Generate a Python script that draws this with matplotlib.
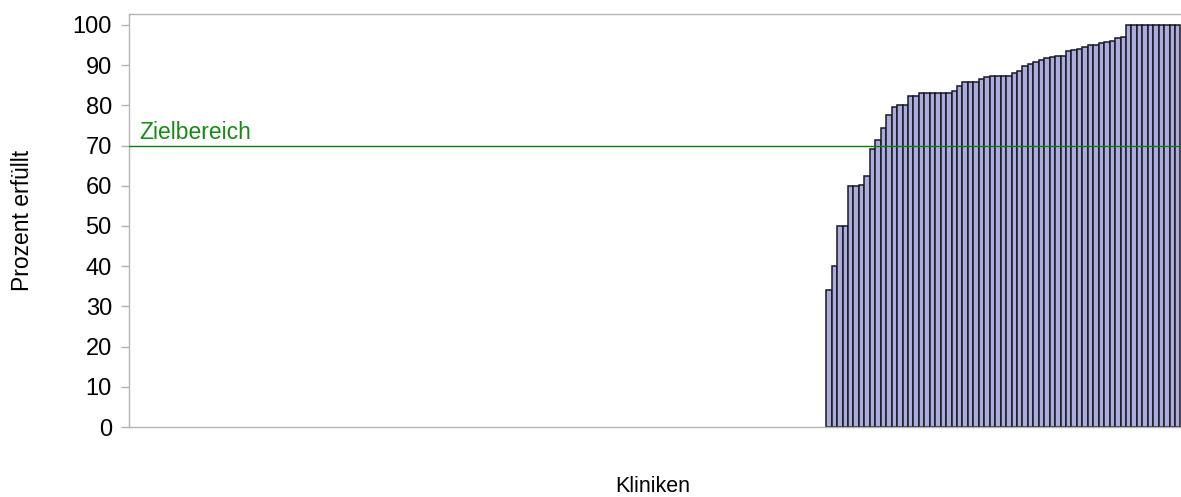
# -*- coding: utf-8 -*-
"""
Qualitaetsindikator: Prozent erfuellt je Klinik, sortiert
"""
import numpy as np
import matplotlib
matplotlib.use('Agg')
import matplotlib.pyplot as plt

# Anzahl Kliniken auf der x-Achse (die ersten ohne Wert)
N_KLINIKEN = 193

# Prozent erfuellt, aufsteigend sortiert
werte = [34.1, 40.1, 50.0, 50.0, 59.9, 59.9, 60.3, 62.5, 69.2, 71.3,
         74.3, 77.7, 79.6, 80.0, 80.0, 82.4, 82.4, 83.2, 83.2, 83.2,
         83.2, 83.2, 83.2, 83.5, 84.7, 85.7, 85.7, 85.7, 86.6, 87.0,
         87.2, 87.2, 87.2, 87.2, 88.0, 88.6, 89.8, 90.4, 90.8, 91.4,
         91.7, 92.0, 92.4, 92.4, 93.5, 93.7, 94.0, 94.4, 94.9, 94.9,
         95.4, 95.8, 96.1, 96.7, 97.1, 100.0, 100.0, 100.0, 100.0, 100.0,
         100.0, 100.0, 100.0, 100.0, 100.0]

ZIELBEREICH = 70
yticks = list(range(0, 101, 10))


def balken(werte, n_kliniken, ziel, dst):
    """
    Balkengrafik mit Linie fuer den Zielbereich
    """
    plt.rcParams['font.family'] = ['Liberation Sans', 'DejaVu Sans']
    grau = '#b4b4b4'

    fig = plt.figure(figsize=(11.81, 4.97), dpi=100)
    ax = fig.add_axes([128.5 / 1181, 1 - 427 / 497,
                       1052 / 1181, (427 - 13.7) / 497])

    x = np.arange(n_kliniken - len(werte), n_kliniken)
    ax.bar(x, werte, width=1.0, color='#acacda', edgecolor='#181824',
           linewidth=1.1, zorder=2)

    ax.axhline(ziel, color='#0f7a0f', linewidth=1.0, zorder=3)
    ax.annotate('Zielbereich', xy=(0.01, ziel),
                xycoords=('axes fraction', 'data'),
                xytext=(0, 5), textcoords='offset points',
                color='#178a17', fontsize=16.5, va='baseline', ha='left')

    ax.set_xlim(-0.5, n_kliniken - 0.5)
    ax.set_ylim(0, 102.8)
    ax.set_yticks(yticks)
    ax.set_xticks([])
    ax.tick_params(axis='y', length=6, width=1, color=grau, pad=6,
                   labelsize=17)

    for side in ('left', 'top', 'bottom'):
        ax.spines[side].set_color(grau)
        ax.spines[side].set_linewidth(1.0)
    ax.spines['right'].set_visible(False)

    fig.text(23 / 1181, 1 - 220 / 497, 'Prozent erfüllt', rotation=90,
             ha='center', va='center', fontsize=16.5)
    fig.text(653 / 1181, 1 - 487 / 497, 'Kliniken',
             ha='center', va='center', fontsize=15.5)

    fig.savefig(dst, dpi=100)
    plt.close('all')


if __name__ == '__main__':
    balken(werte, N_KLINIKEN, ZIELBEREICH, 'out.png')
